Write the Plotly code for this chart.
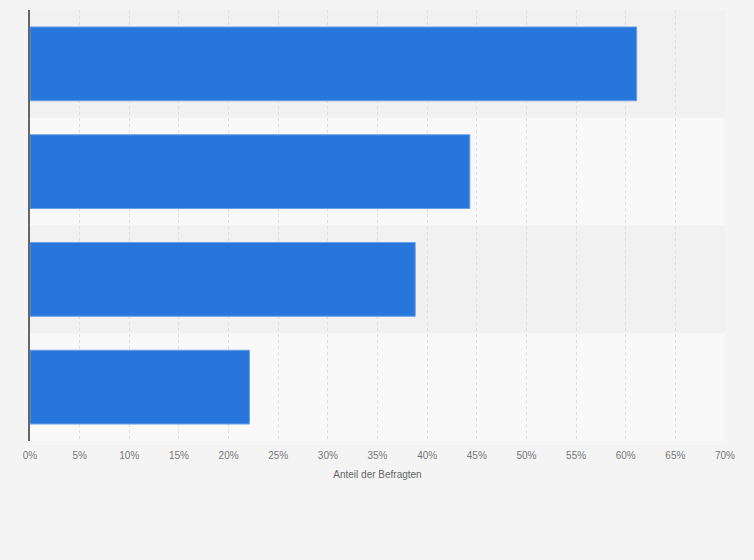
import plotly.graph_objects as go

categories = ["Kategorie 1", "Kategorie 2", "Kategorie 3", "Kategorie 4"]
values = [61.1, 44.3, 38.8, 22.1]
tick_vals = list(range(0, 75, 5))
tick_text = [f"{v}%" for v in tick_vals]
x_title = "Anteil der Befragten"

fig = go.Figure()
fig.add_trace(go.Bar(
    y=categories, x=values, orientation="h",
    marker=dict(color="#2776dc", line=dict(color="#6a9fe6", width=1)),
    width=0.685,
    hoverinfo="x",
))

shapes = []
for i, c in enumerate(categories):
    shapes.append(dict(
        type="rect", xref="paper", yref="y", x0=0, x1=1,
        y0=i - 0.5, y1=i + 0.5,
        fillcolor="#f1f1f1" if i % 2 == 0 else "#f9f9f9",
        line=dict(width=0), layer="below",
    ))

fig.update_layout(
    width=754, height=560,
    paper_bgcolor="#f4f4f4", plot_bgcolor="#f4f4f4",
    margin=dict(l=30, r=29, t=10, b=119),
    shapes=shapes,
    showlegend=False,
    font=dict(family="Liberation Sans, Arial, sans-serif", color="#666666", size=10),
    xaxis=dict(
        range=[0, 70], tickmode="array", tickvals=tick_vals, ticktext=tick_text,
        showgrid=True, gridcolor="#dedede", griddash="dot", gridwidth=1,
        zeroline=False, showline=False, ticks="", ticklen=0,
        ticklabelstandoff=7,
        tickfont=dict(size=10, color="#777777"),
        title=dict(text=x_title, font=dict(size=10, color="#666666"), standoff=10),
        layer="below traces",
    ),
    yaxis=dict(
        categoryorder="array", categoryarray=categories, autorange="reversed",
        showticklabels=False, showgrid=False, zeroline=False,
        showline=True, linecolor="#666666", linewidth=2, ticks="",
    ),
)

fig.write_html(
    "out.html",
    config={"displayModeBar": False},
    post_script="document.body.style.margin='0';document.body.style.background='#f4f4f4';",
)
